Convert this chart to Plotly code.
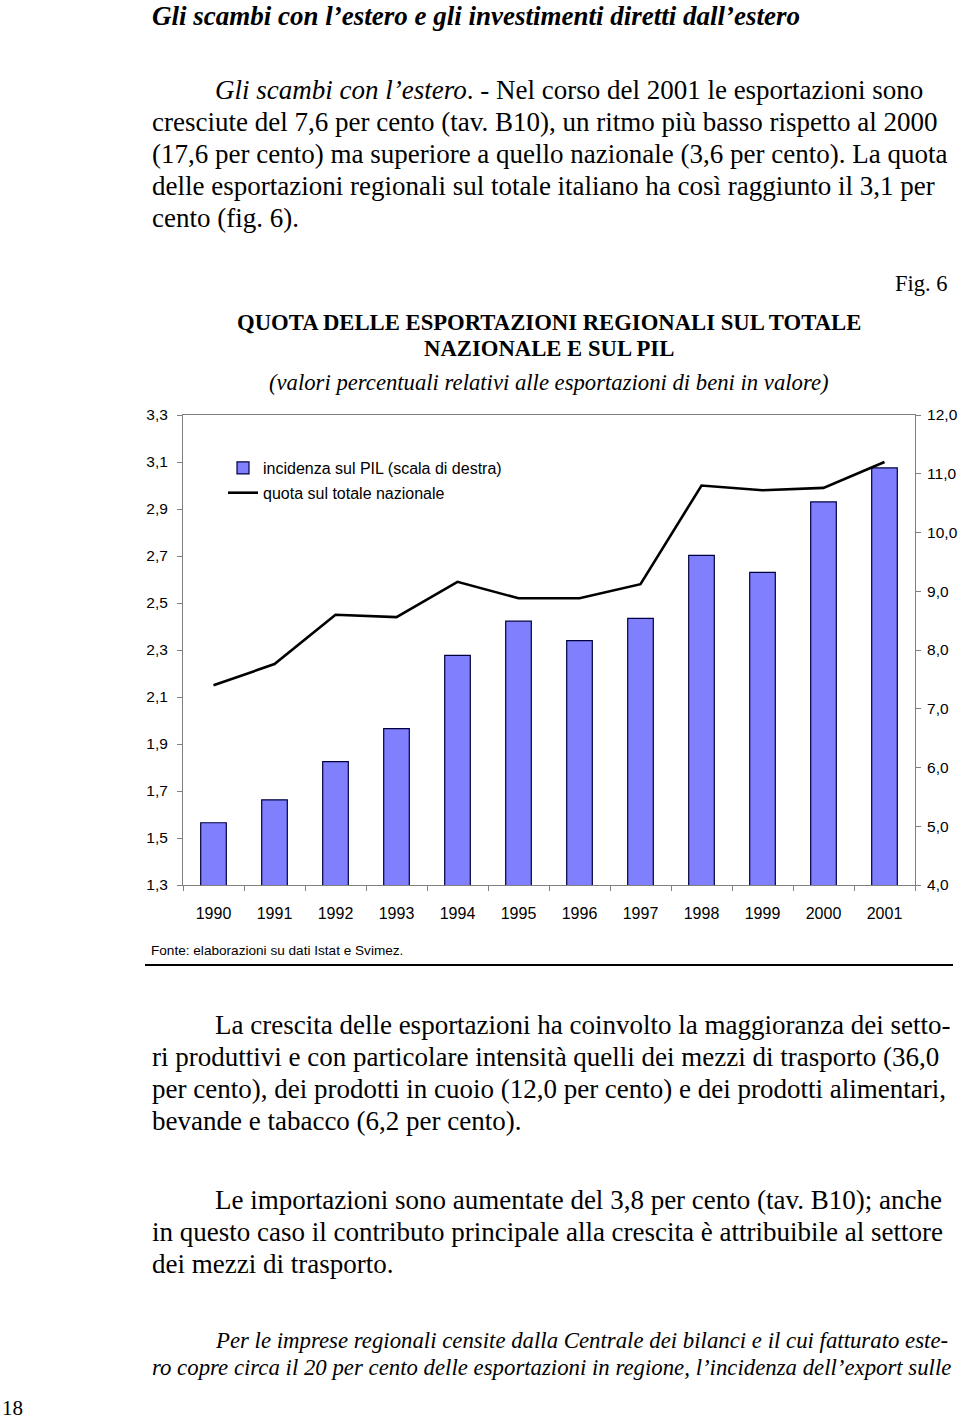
import plotly.graph_objects as go

# ---------------- data ----------------
years = ["1990", "1991", "1992", "1993", "1994", "1995",
         "1996", "1997", "1998", "1999", "2000", "2001"]
incidenza_pil = [5.06, 5.45, 6.10, 6.66, 7.91, 8.49,
                 8.16, 8.54, 9.61, 9.32, 10.52, 11.10]
quota_nazionale = [2.15, 2.24, 2.45, 2.44, 2.59, 2.52,
                   2.52, 2.58, 3.00, 2.98, 2.99, 3.10]
left_ticks = [1.3, 1.5, 1.7, 1.9, 2.1, 2.3, 2.5, 2.7, 2.9, 3.1, 3.3]
right_ticks = [4, 5, 6, 7, 8, 9, 10, 11, 12]

# ---------------- page geometry ----------------
W, H = 960, 1420
L, R, T, B = 183, 915, 415, 885   # plot area in page pixels


def px(x):
    return (x - L) / (R - L)


def py(y):
    return (B - y) / (B - T)


SERIF = "Liberation Serif, Times New Roman, serif"
SANS = "Liberation Sans, Arial, sans-serif"

fig = go.Figure()
fig.add_trace(go.Bar(
    x=years, y=incidenza_pil, yaxis="y",
    name="incidenza sul PIL (scala di destra)",
    marker=dict(color="#8080FF", line=dict(color="#000040", width=1.2)),
    width=0.42, legendgroup="a",
))
fig.add_trace(go.Scatter(
    x=years, y=quota_nazionale, yaxis="y2", mode="lines",
    name="quota sul totale nazionale",
    line=dict(color="black", width=2.6), legendgroup="b",
))

ann = []


def text(x, y, s, size, family=SERIF, anchor="left", color="black"):
    ann.append(dict(x=px(x), y=py(y), xref="paper", yref="paper", text=s,
                    showarrow=False, xanchor=anchor, yanchor="middle",
                    font=dict(family=family, size=size, color=color)))


BODY = 27
# heading
text(150, 16, "<b><i>Gli scambi con l’estero e gli investimenti diretti dall’estero</i></b>", 27)
# paragraph 1
p1 = [
    (213, "<i>Gli scambi con l’estero</i>. - Nel corso del 2001 le esportazioni sono"),
    (150, "cresciute del 7,6 per cento (tav. B10), un ritmo più basso rispetto al 2000"),
    (150, "(17,6 per cento) ma superiore a quello nazionale (3,6 per cento). La quota"),
    (150, "delle esportazioni regionali sul totale italiano ha così raggiunto il 3,1 per"),
    (150, "cento (fig. 6)."),
]
for i, (x0, s) in enumerate(p1):
    text(x0, 90 + 32 * i, s, BODY)

text(950, 283, "Fig. 6", 22.5, anchor="right")
text(549, 322, "<b>QUOTA DELLE ESPORTAZIONI REGIONALI SUL TOTALE</b>", 22.7, anchor="center")
text(549, 348, "<b>NAZIONALE E SUL PIL</b>", 22.7, anchor="center")
text(549, 382, "<i>(valori percentuali relativi alle esportazioni di beni in valore)</i>", 22.7, anchor="center")

text(149, 950, "Fonte: elaborazioni su dati Istat e Svimez.", 13.6, family=SANS)

p2 = [
    (213, "La crescita delle esportazioni ha coinvolto la maggioranza dei setto-"),
    (150, "ri produttivi e con particolare intensità quelli dei mezzi di trasporto (36,0"),
    (150, "per cento), dei prodotti in cuoio (12,0 per cento) e dei prodotti alimentari,"),
    (150, "bevande e tabacco (6,2 per cento)."),
]
for i, (x0, s) in enumerate(p2):
    text(x0, 1025 + 32 * i, s, BODY)

p3 = [
    (213, "Le importazioni sono aumentate del 3,8 per cento (tav. B10); anche"),
    (150, "in questo caso il contributo principale alla crescita è attribuibile al settore"),
    (150, "dei mezzi di trasporto."),
]
for i, (x0, s) in enumerate(p3):
    text(x0, 1200 + 32 * i, s, BODY)

p4 = [
    (213, "<i>Per le imprese regionali censite dalla Centrale dei bilanci e il cui fatturato este-</i>"),
    (150, "<i>ro copre circa il 20 per cento delle esportazioni in regione, l’incidenza dell’export sulle</i>"),
]
for i, (x0, s) in enumerate(p4):
    text(x0, 1340 + 27 * i, s, 22.8)

text(0, 1408, "18", 21)

shapes = [dict(type="line", xref="paper", yref="paper",
               x0=px(145), x1=px(953), y0=py(965), y1=py(965),
               line=dict(color="black", width=2))]

axis_gray = "#808080"
fig.update_layout(
    width=W, height=H,
    margin=dict(l=L, r=W - R, t=T, b=H - B, pad=0, autoexpand=False),
    paper_bgcolor="white", plot_bgcolor="white",
    separators=",.",
    showlegend=True,
    legend=dict(x=px(223), y=py(451), xanchor="left", yanchor="top",
                bgcolor="rgba(0,0,0,0)", font=dict(family=SANS, size=16, color="black"),
                tracegroupgap=1, itemwidth=30),
    xaxis=dict(type="category", categoryorder="array", categoryarray=years,
               range=[-0.5, 11.5], tickson="boundaries", ticks="outside", ticklen=5,
               tickcolor=axis_gray, showline=True, linecolor=axis_gray, linewidth=1,
               mirror=True, showgrid=False, ticklabelstandoff=14, automargin=False,
               tickfont=dict(family=SANS, size=16, color="black")),
    yaxis=dict(side="right", range=[4, 12], tickvals=right_ticks, tickformat=".1f",
               ticks="outside", ticklen=5, tickcolor=axis_gray, showline=True,
               linecolor=axis_gray, linewidth=1, showgrid=False, zeroline=False,
               ticklabelstandoff=3, automargin=False,
               tickfont=dict(family=SANS, size=15.5, color="black")),
    yaxis2=dict(side="left", overlaying="y", range=[1.3, 3.3], tickvals=left_ticks,
                tickformat=".1f", ticks="outside", ticklen=5, tickcolor=axis_gray,
                showline=True, linecolor=axis_gray, linewidth=1, showgrid=False,
                zeroline=False, ticklabelstandoff=6, automargin=False,
                tickfont=dict(family=SANS, size=15.5, color="black")),
    annotations=ann,
    shapes=shapes,
)

fig.write_html(
    "out.html",
    config={"displayModeBar": False},
    post_script=("document.documentElement.style.margin='0';"
                 "document.documentElement.style.overflow='hidden';"
                 "document.body.style.margin='0';"
                 "document.body.style.overflow='hidden';"),
)
